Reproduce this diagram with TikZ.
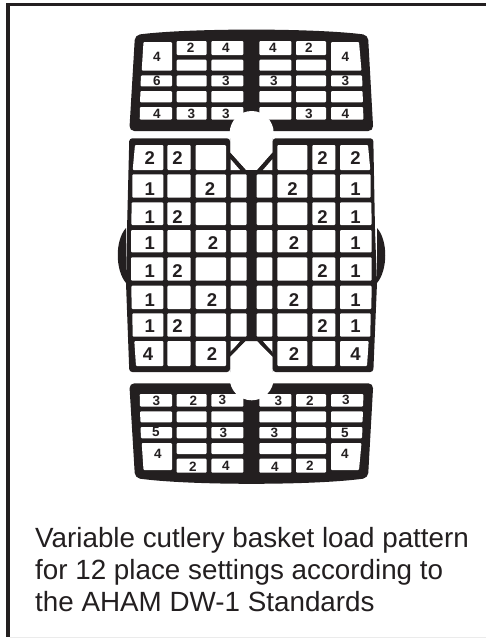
\documentclass[tikz,border=0pt]{standalone}
\usepackage{fontspec}
\usepackage{xcolor}
\setmainfont{Liberation Sans}
\usetikzlibrary{positioning}
\definecolor{inkblack}{HTML}{231F20}

% one white slot: x left at top, x left at bottom, y top, x right, y bottom
\newcommand{\slot}[5]{\fill[slotfill] (#1,#3) -- (#4,#3) -- (#4,#5) -- (#2,#5) -- cycle;}
% the same with the slant on its right side
\newcommand{\rslot}[5]{\fill[slotfill] (#1,#3) -- (#2,#3) -- (#4,#5) -- (#1,#5) -- cycle;}

\begin{document}
\begin{tikzpicture}[
    x=1pt, y=-1pt,
    slotfill/.style={fill=white, rounded corners=1pt},
    basket/.style={fill=inkblack, rounded corners=5pt},
    smallnum/.style={font=\bfseries\fontsize{13.5}{13.5}\selectfont, text=inkblack, inner sep=0pt},
    bignum/.style={font=\bfseries\fontsize{18.5}{18.5}\selectfont, text=inkblack, inner sep=0pt},
    caption/.style={font=\fontsize{27.8}{32}\selectfont, text=inkblack, align=left, inner sep=0pt, anchor=base west}
]
\useasboundingbox (0,0) rectangle (486,638);
\fill[white] (0,0) rectangle (486,638);

% frame
\draw[inkblack, line width=4pt] (8,3) -- (8,636.5);
\draw[inkblack, line width=3.5pt] (6,4.7) -- (486,4.7);
\draw[black!8, line width=0.7pt] (10,637) -- (486,637);

% top basket
\fill[basket] (135,35) .. controls (190,28) and (313,28) .. (368,35)
    -- (373.3,131) -- (129.3,131) -- cycle;
\slot{143.5}{141.7}{42}{172}{70.7}
\foreach \xa/\xb in {176.7/206.7, 211.3/243.3, 259.3/291.3, 296/326} {
    \fill[slotfill] (\xa,41) rectangle (\xb,55);
    \fill[slotfill] (\xa,59.7) rectangle (\xb,70.7);
    \fill[slotfill] (\xa,75.3) rectangle (\xb,86.3);
    \fill[slotfill] (\xa,91) rectangle (\xb,102.3);
    \fill[slotfill] (\xa,107) rectangle (\xb,119.7);
}
\rslot{331}{359}{42}{361.5}{70.7}
\slot{141}{140.5}{75.3}{172}{86.3}
\slot{140.5}{140}{91}{172}{102.3}
\slot{140}{139.7}{107}{172}{119.7}
\rslot{331}{362}{75.3}{362.5}{86.3}
\rslot{331}{362.5}{91}{363}{102.3}
\rslot{331}{363}{107}{363.5}{119.7}

% middle basket
\fill[inkblack, rounded corners=3pt] (129.3,138.3) -- (230,138.3) [sharp corners] -- (230,152.5) -- (245.7,170) -- (257.3,170)
    -- (272.7,152.5) [rounded corners=3pt] -- (272.7,138.3) -- (373.3,138.3) -- (375,230) -- (377,283)
    -- (373.3,372) -- (272.7,372) [sharp corners] -- (272.7,356.7) -- (257.3,341) -- (245.3,341)
    -- (230,356.7) [rounded corners=3pt] -- (230,372) -- (129.3,372) -- (126,283) -- (127,230) -- cycle;
\fill[inkblack] (126,228) .. controls (115,240) and (115,270) .. (126,283) -- cycle;
\fill[inkblack] (377,228) .. controls (388,240) and (388,270) .. (377,283) -- cycle;
\foreach \ya/\yb [count=\i] in {145/170, 174.3/197.7, 202.3/225, 230/252.3, 257.3/280.7, 285.7/309, 313.3/336.7, 341/366} {
    \fill[slotfill] (167.3,\ya) rectangle (190.7,\yb);
    \fill[slotfill] (195.7,\ya) rectangle (226,\yb);
    \fill[slotfill] (277.3,\ya) rectangle (307.3,\yb);
    \fill[slotfill] (312.3,\ya) rectangle (335.3,\yb);
}
\foreach \ya/\yb in {174.3/197.7, 202.3/225, 230/252.3, 257.3/280.7, 285.7/309, 313.3/336.7} {
    \fill[slotfill] (230.7,\ya) rectangle (246.7,\yb);
    \fill[slotfill] (256.7,\ya) rectangle (272.3,\yb);
}
\fill[white] (230.7,159.3) -- (240,170) -- (230.7,170) -- cycle;
\fill[white] (272.3,159.3) -- (263,170) -- (272.3,170) -- cycle;
\fill[white] (230.7,341) -- (240,341) -- (230.7,353) -- cycle;
\fill[white] (272.3,341) -- (263,341) -- (272.3,353) -- cycle;
\slot{135}{132.7}{145}{163.3}{170}
\slot{132.3}{132.3}{174.3}{163.3}{197.7}
\slot{131.7}{131.3}{202.3}{163.3}{225}
\slot{131}{131}{230}{163.3}{252.3}
\slot{131}{131}{257.3}{163.3}{280.7}
\slot{131.3}{131.7}{285.7}{163.3}{309}
\slot{132.3}{132.7}{313.3}{163.3}{336.7}
\slot{134.3}{136}{341}{163.3}{366}
\rslot{340}{368}{145}{370.3}{170}
\rslot{340}{370.7}{174.3}{370.7}{197.7}
\rslot{340}{371.3}{202.3}{371.7}{225}
\rslot{340}{371.7}{230}{371.7}{252.3}
\rslot{340}{371.7}{257.3}{371.7}{280.7}
\rslot{340}{371.7}{285.7}{371.3}{309}
\rslot{340}{370.7}{313.3}{370.3}{336.7}
\rslot{340}{368.7}{341}{367}{366}

% bottom basket
\fill[basket] (129.3,383.3) -- (373.3,383.3) -- (368,478)
    .. controls (313,485.5) and (190,485.5) .. (135,478) -- cycle;
\slot{141.7}{143.5}{443}{172}{470}
\foreach \xa/\xb in {176.7/206.7, 211.3/243.3, 259.3/291.3, 296/326} {
    \fill[slotfill] (\xa,394) rectangle (\xb,406.7);
    \fill[slotfill] (\xa,411.3) rectangle (\xb,422.3);
    \fill[slotfill] (\xa,427) rectangle (\xb,438.3);
    \fill[slotfill] (\xa,443) rectangle (\xb,454);
    \fill[slotfill] (\xa,458.7) rectangle (\xb,472.7);
}
\rslot{331}{361.5}{443}{359}{470}
\slot{139.7}{140}{394}{172}{406.7}
\slot{140}{140.5}{411.3}{172}{422.3}
\slot{140.5}{141}{427}{172}{438.3}
\rslot{331}{363.5}{394}{363}{406.7}
\rslot{331}{363}{411.3}{362.5}{422.3}
\rslot{331}{362.5}{427}{362}{438.3}

% round cut-outs between the baskets
\fill[white] (251.7,133) circle (22);
\fill[white] (251.7,378.3) circle (22);
% the basket edges come back over the cut-outs
\fill[inkblack] (230,138.3) -- (230,152.5) -- (245.7,170) -- (241,170) -- (230,157.5) -- cycle;
\fill[inkblack] (272.7,138.3) -- (272.7,152.5) -- (257.3,170) -- (262,170) -- (272.7,157.5) -- cycle;
\fill[inkblack] (272.7,372) -- (272.7,356.7) -- (257.3,341) -- (262,341) -- (272.7,352) -- cycle;
\fill[inkblack] (230,372) -- (230,356.7) -- (245.3,341) -- (241,341) -- (230,352) -- cycle;

% top basket numbers
\foreach \px/\py/\lab [count=\i] in {
    157/56.5/4, 190.7/48/2, 226/48/4, 273/47.5/4, 309/48/2, 345.5/57/4,
    157/81/6, 226/81/3, 274/81/3, 345.5/81/3,
    157/114/4, 191.5/114/3, 226/114/3, 309/114/3, 345.5/114/4} {
    \node[smallnum] (tnum\i) at (\px,\py) {\lab};
}
% middle basket numbers
\foreach \px/\py/\lab [count=\i] in {
    149.7/158/2, 177.5/158/2, 322.5/158/2, 355.5/158/2,
    149.7/189/1, 210/189/2, 292.5/189/2, 355.5/189/1,
    149.7/217/1, 177.5/217/2, 322.5/217/2, 355.5/217/1,
    149.7/243/1, 213/243/2, 294/243/2, 355.5/243/1,
    149.7/271/1, 177.5/271/2, 322.5/271/2, 355.5/271/1,
    149.7/300/1, 212/300/2, 294/300/2, 355.5/300/1,
    149.7/326/1, 177.5/326/2, 322.5/326/2, 355.5/326/1,
    148/354/4, 212/354/2, 294/354/2, 355.5/354/4} {
    \node[bignum] (mnum\i) at (\px,\py) {\lab};
}
% bottom basket numbers
\foreach \px/\py/\lab [count=\i] in {
    156.5/401/3, 193.5/401/2, 222.5/400/3, 278.5/401/3, 310/400.5/2, 346/399.5/3,
    156/432/5, 223.5/432.5/3, 274.5/432.5/3, 345/433/5,
    158/454/4, 345/454/4,
    193/466.5/2, 226/465.5/4, 275/466.5/4, 310/465.5/2} {
    \node[smallnum] (bnum\i) at (\px,\py) {\lab};
}

% caption
\node[caption] (loadtext) at (35,611.7) {Variable cutlery basket load pattern\\for 12 place settings according to\\the AHAM DW-1 Standards};
\end{tikzpicture}
\end{document}
